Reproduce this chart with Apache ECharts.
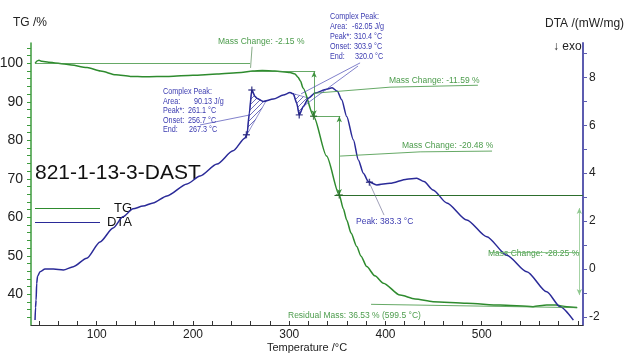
<!DOCTYPE html>
<html>
<head>
<meta charset="utf-8">
<script src="https://cdn.jsdelivr.net/npm/echarts@6/dist/echarts.min.js"></script>
<style>
html,body{margin:0;padding:0;background:#fff;}
#c{width:624px;height:354px;}
</style>
</head>
<body>
<div id="c"></div>
<script>
// ---------- data ----------
const tgTemp = [36, 38, 40, 43, 50, 70, 90, 104, 120, 135, 150, 175, 200, 225, 250, 262, 272, 285, 300.8, 306, 309.1, 311.7, 314.3, 325.3, 338.8, 352, 356.2, 359.7, 364.2, 370.1, 374.6, 380.5, 389, 397.8, 415.1, 430.7, 449.4, 484.4, 519, 553.3, 567.5, 577, 588.3, 599];
const tgMass = [100.0, 100.6, 100.8, 100.5, 100.3, 99.7, 98.9, 98.0, 97.0, 96.6, 96.5, 96.6, 96.9, 97.2, 97.6, 98.0, 98.1, 98.0, 97.6, 97.2, 96.4, 95.4, 93.6, 86.26, 75.9, 65.78, 62.2, 59.3, 55.9, 52.4, 49.9, 47.2, 44.8, 42.9, 39.8, 38.8, 38.1, 37.7, 37.2, 36.8, 37.2, 37.2, 36.8, 36.6];

const dtaTemp = [35.9, 36.4, 37.0, 37.6, 38.5, 41.1, 46.3, 54.9, 65.3, 75.7, 89.6, 103.4, 117, 127.3, 137.7, 148.1, 158.5, 173, 193.8, 207.3, 225, 241.6, 254.1, 256.2, 258.5, 261.1, 264.5, 266.3, 273.1, 283.5, 293.9, 300.8, 304.2, 307.8, 310.4, 314.6, 319.9, 326.8, 338.9, 344.5, 350, 354.5, 359.7, 366.6, 371.8, 377, 382.2, 390.9, 404.7, 422.1, 432.5, 440, 449.4, 463.6, 484.4, 505.2, 526, 546.8, 567.5, 581.4, 595.2];
const dtaValue = [-2.13, -1.6, -1.29, -0.6, -0.3, -0.11, 0.0, 0.0, -0.04, 0.1, 0.45, 1.13, 1.71, 2.18, 2.51, 2.63, 2.76, 3.05, 3.55, 3.88, 4.38, 4.93, 5.47, 5.64, 6.5, 7.47, 7.2, 7.13, 6.99, 7.09, 7.26, 7.36, 7.31, 6.92, 6.43, 6.78, 7.13, 7.34, 7.5, 7.56, 7.42, 7.06, 6.36, 5.39, 4.55, 4.0, 3.65, 3.51, 3.58, 3.75, 3.79, 3.65, 3.30, 2.76, 2.05, 1.35, 0.58, -0.11, -0.95, -1.57, -2.13];

// tick labels / tick positions
const tempLabels = [100, 200, 300, 400, 500];
const tempTicks = [40, 60, 80, 100, 120, 140, 160, 180, 200, 220, 240, 260, 280, 300, 320, 340, 360, 380, 400, 420, 440, 460, 480, 500, 520, 540, 560, 580, 600];
const tgLabels = [40, 50, 60, 70, 80, 90, 100];
const tgTicks = [34, 36, 38, 40, 42, 44, 46, 48, 50, 52, 54, 56, 58, 60, 62, 64, 66, 68, 70, 72, 74, 76, 78, 80, 82, 84, 86, 88, 90, 92, 94, 96, 98, 100, 102, 104];
const dtaLabels = [-2, 0, 2, 4, 6, 8];
const dtaTicks = [-2, -1, 0, 1, 2, 3, 4, 5, 6, 7, 8, 9];

// evaluation results (levels of mass steps, peaks)
const massLevels = [100, 97.85, 86.26, 65.78, 37.53];
const residual = [599.5, 36.53];
const peaksDTA = [[261.1, 7.47], [255.5, 5.6], [310.4, 6.43], [383.3, 3.62]];
const stepPointsTG = [[325.3, 86.26], [352, 65.78]];
const hatch1 = [254.1, 276];
const hatch2 = [302, 320];

// ---------- helpers ----------
const tgData = tgTemp.map((t, i) => [t, tgMass[i]]);
const dtaData = dtaTemp.map((t, i) => [t, dtaValue[i]]);
function interpDTA(t) {
  for (let i = 0; i < dtaTemp.length - 1; i++) {
    if (t >= dtaTemp[i] && t <= dtaTemp[i + 1]) {
      const f = (t - dtaTemp[i]) / (dtaTemp[i + 1] - dtaTemp[i]);
      return dtaValue[i] + f * (dtaValue[i + 1] - dtaValue[i]);
    }
  }
  return null;
}
function polyBetween(t1, t2) {
  const pts = [[t1, interpDTA(t1)]];
  dtaData.forEach(p => { if (p[0] > t1 && p[0] < t2) pts.push(p); });
  pts.push([t2, interpDTA(t2)]);
  return pts;
}
const poly1 = polyBetween(hatch1[0], hatch1[1]);
const poly2 = polyBetween(hatch2[0], hatch2[1]);

// hatch pattern
const pc = document.createElement('canvas');
pc.width = 5; pc.height = 5;
const g = pc.getContext('2d');
g.strokeStyle = '#4a4aa8'; g.lineWidth = 0.8;
g.beginPath();
g.moveTo(0, 5); g.lineTo(5, 0);
g.moveTo(-2.5, 2.5); g.lineTo(2.5, -2.5);
g.moveTo(2.5, 7.5); g.lineTo(7.5, 2.5);
g.stroke();
const hatchFill = { image: pc, repeat: 'repeat' };

const FONT = 'Liberation Sans, Arial, sans-serif';
const GREEN_TXT = '#4c9c4c';
const BLUE_TXT = '#3a3ab0';
const TG_COLOR = '#2e8b2e';
const DTA_COLOR = '#2a2a98';

function seg(a, b, style) {
  return [{ coord: a, lineStyle: style }, { coord: b }];
}
function arrowSeg(a, b, color) {
  return [{ coord: a, symbol: 'arrow', symbolSize: [4, 6], lineStyle: { color: color, width: 0.8, type: 'solid' } },
          { coord: b, symbol: 'arrow', symbolSize: [4, 6] }];
}
const gLine = { color: '#3f933f', width: 0.8, type: 'solid' };
const gLight = { color: '#6fb86f', width: 0.8, type: 'solid' };
const bLine = { color: '#4a4ab5', width: 0.7, type: 'solid' };
const grayLine = { color: '#777799', width: 0.7, type: 'solid' };

const tgMarks = [
  seg([36, massLevels[0]], [259.3, massLevels[0]], gLine),
  seg([259.3, massLevels[1]], [327, massLevels[1]], gLine),
  seg([325, massLevels[2]], [353, massLevels[2]], gLine),
  seg([347, massLevels[3]], [605, massLevels[3]], { color: '#2d6e2d', width: 1, type: 'solid' }),
  seg([385, 37.4], residual, gLine),
  seg([261.4, 104.3], [259.8, 98.8], { color: '#558855', width: 0.7, type: 'solid' }),
  seg([325, 92.2], [404.7, 93.8], gLine),
  seg([404.7, 93.8], [496, 94.3], gLine),
  seg([352.8, 75.9], [436, 77.0], gLine),
  seg([436, 77.0], [510.7, 77.2], gLine),
  seg([508, 50.8], [601.4, 50.8], gLight),
  arrowSeg([325.8, 97.85], [325.8, 86.26], '#3f933f'),
  arrowSeg([352, 86.26], [352, 65.78], '#3f933f'),
  arrowSeg([601.4, 62.4], [601.4, 39.8], '#8fc88f')
];
const dtaMarks = [
  seg([207.3, 6.01], [259.3, 6.43], bLine),
  seg([373.6, 8.6], [312.3, 7.31], bLine),
  seg([371.5, 8.47], [314.3, 6.78], bLine),
  seg([383.3, 3.59], [398.5, 2.25], grayLine)
];

const plusPath = 'path://M4,0h2v4h4v2h-4v4h-2v-4h-4v-2h4z';

function txt(x, y, text, size, color, extra) {
  return Object.assign({
    type: 'text', x: x, y: y, silent: true,
    style: { text: text, font: size + 'px ' + FONT, fill: color, verticalAlign: 'middle' }
  }, extra || {});
}
function peakBlock(x0, y0, dy, lines, valOffsets) {
  const sx = { scaleX: 0.85 };
  const out = [txt(x0, y0, 'Complex Peak:', 8.5, BLUE_TXT, sx)];
  lines.forEach((l, i) => {
    out.push(txt(x0, y0 + dy * (i + 1), l[0], 8.5, BLUE_TXT, sx));
    out.push(txt(x0 + valOffsets[i], y0 + dy * (i + 1), l[1], 8.5, BLUE_TXT, sx));
  });
  return out;
}

const graphics = [
  txt(13, 23, 'TG /%', 12, '#222'),
  txt(545, 24, 'DTA /(mW/mg)', 12, '#222'),
  txt(553, 47, '\u2193 exo', 12, '#222'),
  txt(35, 173, '821-1-13-3-DAST', 21, '#111'),
  txt(218, 42, 'Mass Change: -2.15 %', 8.5, GREEN_TXT),
  txt(389, 81, 'Mass Change: -11.59 %', 8.5, GREEN_TXT),
  txt(402, 146, 'Mass Change: -20.48 %', 8.5, GREEN_TXT),
  txt(488, 254, 'Mass Change: -28.25 %', 8.5, GREEN_TXT),
  txt(288, 316, 'Residual Mass: 36.53 % (599.5 \u00B0C)', 8.5, GREEN_TXT),
  txt(356, 222, 'Peak: 383.3 \u00B0C', 8.5, BLUE_TXT)
].concat(
  peakBlock(163, 92, 9.5, [['Area:', '90.13 J/g'], ['Peak*:', '261.1 \u00B0C'], ['Onset:', '256.7 \u00B0C'], ['End:', '267.3 \u00B0C']], [31, 25, 25, 26]),
  peakBlock(330, 17, 10, [['Area:', '-62.05 J/g'], ['Peak*:', '310.4 \u00B0C'], ['Onset:', '303.9 \u00B0C'], ['End:', '320.0 \u00B0C']], [22, 24, 24, 25])
);

function hatchRender(poly) {
  return function (params, api) {
    return {
      type: 'polygon',
      shape: { points: poly.map(p => api.coord(p)) },
      style: { fill: hatchFill, stroke: '#4a4ab0', lineWidth: 0.6 }
    };
  };
}

const chart = echarts.init(document.getElementById('c'), null, { renderer: 'canvas' });
chart.setOption({
  animation: false,
  backgroundColor: '#fff',
  textStyle: { fontFamily: FONT },
  grid: { left: 31, right: 41, top: 43, bottom: 29, containLabel: false, outerBoundsMode: 'none' },
  legend: {
    data: [
      { name: 'TG', itemStyle: { color: TG_COLOR } },
      { name: 'DTA', itemStyle: { color: DTA_COLOR } }
    ],
    orient: 'vertical', left: 35, top: 202, padding: 0,
    itemWidth: 65, itemHeight: 1, itemGap: 1,
    icon: 'rect',
    selectedMode: false,
    formatter: function (n) { return '{a|' + n + '}'; },
    textStyle: { fontSize: 13, color: '#111', rich: { a: { width: 27, align: 'right', fontSize: 13, color: '#111' } } }
  },
  xAxis: {
    type: 'value', min: 31.7, max: 605.2,
    name: 'Temperature /\u00B0C', nameLocation: 'middle', nameGap: 17, nameMoveOverlap: false,
    nameTextStyle: { fontSize: 11, color: '#222', verticalAlign: 'top' },
    axisLine: { onZero: false, lineStyle: { color: '#333', width: 1 } },
    axisTick: { inside: true, length: 4, customValues: tempTicks, lineStyle: { color: '#333' } },
    axisLabel: { customValues: tempLabels, fontSize: 12, color: '#222', margin: 4 },
    splitLine: { show: false }
  },
  yAxis: [
    {
      type: 'value', min: 32.03, max: 105.27, position: 'left',
      axisLine: { show: true, onZero: false, lineStyle: { color: '#3d9b3d', width: 1.5 } },
      axisTick: { show: true, length: 4, customValues: tgTicks, lineStyle: { color: '#3d9b3d' } },
      axisLabel: { customValues: tgLabels, fontSize: 14, color: '#222', margin: 8 },
      splitLine: { show: false }
    },
    {
      type: 'value', min: -2.335, max: 9.43, position: 'right',
      axisLine: { show: true, onZero: false, lineStyle: { color: '#5c5cb0', width: 2 } },
      axisTick: { show: true, length: 4, customValues: dtaTicks, lineStyle: { color: '#5c5cb0' } },
      axisLabel: { customValues: dtaLabels, fontSize: 12, color: '#222', margin: 6 },
      splitLine: { show: false }
    }
  ],
  series: [
    {
      name: 'TG', type: 'line', yAxisIndex: 0, data: tgData,
      showSymbol: false, symbol: 'none', smooth: 0.25, smoothMonotone: 'x',
      itemStyle: { color: TG_COLOR }, lineStyle: { color: TG_COLOR, width: 1.5 },
      z: 3,
      markLine: { silent: true, symbol: 'none', label: { show: false }, animation: false, data: tgMarks }
    },
    {
      name: 'DTA', type: 'line', yAxisIndex: 1, data: dtaData,
      showSymbol: false, symbol: 'none', smooth: 0.25, smoothMonotone: 'x',
      itemStyle: { color: DTA_COLOR }, lineStyle: { color: DTA_COLOR, width: 1.5 },
      z: 4,
      markLine: { silent: true, symbol: 'none', label: { show: false }, animation: false, data: dtaMarks }
    },
    {
      name: 'hatch1', type: 'custom', yAxisIndex: 1, silent: true, z: 2,
      renderItem: hatchRender(poly1), data: [poly1[0]]
    },
    {
      name: 'hatch2', type: 'custom', yAxisIndex: 1, silent: true, z: 2,
      renderItem: hatchRender(poly2), data: [poly2[0]]
    },
    {
      name: 'dtaPeaks', type: 'scatter', yAxisIndex: 1, silent: true, z: 5,
      symbol: plusPath, symbolSize: 7, itemStyle: { color: '#22227a' }, data: peaksDTA
    },
    {
      name: 'tgSteps', type: 'scatter', yAxisIndex: 0, silent: true, z: 5,
      symbol: plusPath, symbolSize: 7, itemStyle: { color: '#2a6a2a' }, data: stepPointsTG
    }
  ],
  graphic: graphics
});
</script>
</body>
</html>
